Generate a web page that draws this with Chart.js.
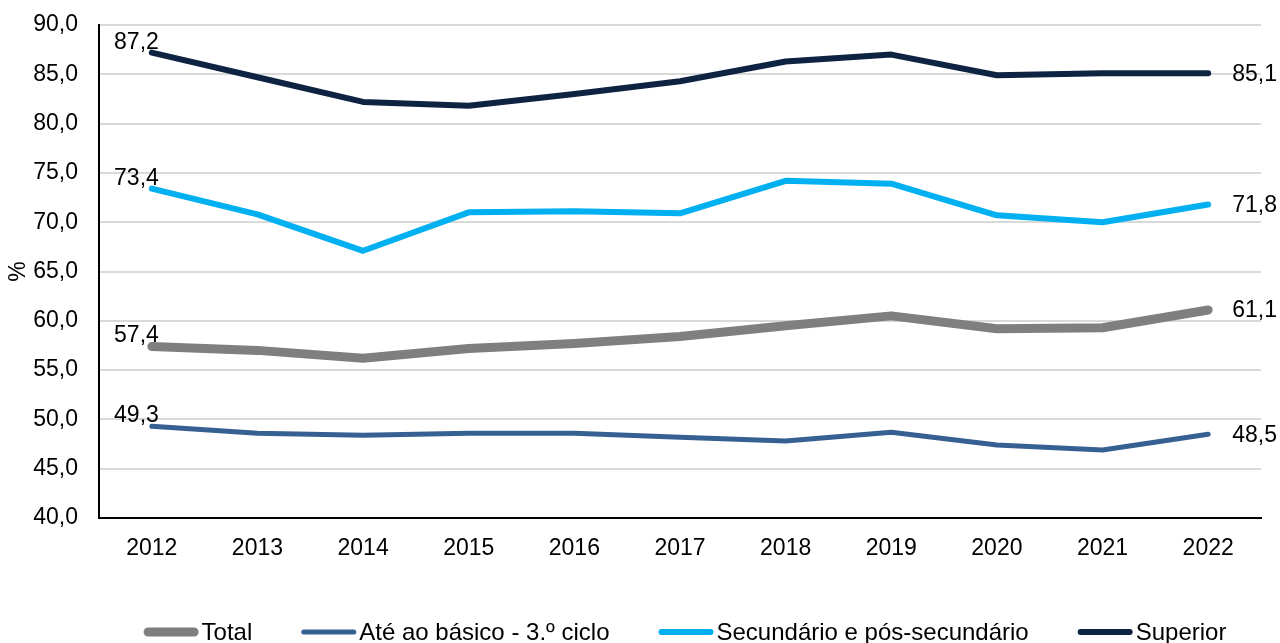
<!DOCTYPE html>
<html>
<head>
<meta charset="utf-8">
<script src="https://cdn.jsdelivr.net/npm/chart.js@4/dist/chart.umd.min.js"></script>
<style>
  html, body { margin: 0; padding: 0; background: #ffffff; }
  #wrap { width: 1280px; height: 643px; }
</style>
</head>
<body>
<div id="wrap"><canvas id="c" width="1280" height="643"></canvas></div>
<script>
const years = ['2012','2013','2014','2015','2016','2017','2018','2019','2020','2021','2022'];
const total = [57.4, 57.0, 56.2, 57.2, 57.7, 58.4, 59.5, 60.5, 59.2, 59.3, 61.1];
const basico = [49.3, 48.6, 48.4, 48.6, 48.6, 48.2, 47.8, 48.7, 47.4, 46.9, 48.5];
const secundario = [73.4, 70.8, 67.1, 71.0, 71.1, 70.9, 74.2, 73.9, 70.7, 70.0, 71.8];
const superior = [87.2, 84.7, 82.2, 81.8, 83.0, 84.3, 86.3, 87.0, 84.9, 85.1, 85.1];
const seriesNames = ['Total', 'Até ao básico - 3.º ciclo', 'Secundário e pós-secundário', 'Superior'];
const yMin = 40, yMax = 90, yStep = 5;

const FONT = 'Liberation Sans, Arial, sans-serif';
const FS = 23;
const LEGEND_FS = 24;
const fmt = v => v.toFixed(1).replace('.', ',');

function ds(label, data, color, width) {
  return {
    label, data,
    borderColor: color, backgroundColor: color,
    borderWidth: width, pointRadius: 0, tension: 0,
    borderCapStyle: 'round', borderJoinStyle: 'round', fill: false
  };
}

const labelPlugin = {
  id: 'labelsAndLegend',
  afterDatasetsDraw(chart) {
    const ctx = chart.ctx;
    const xs = chart.scales.x, ys = chart.scales.y;
    ctx.save();
    ctx.font = FS + 'px ' + FONT;
    ctx.fillStyle = '#000000';
    chart.data.datasets.forEach(d => {
      const n = d.data.length;
      const x0 = xs.getPixelForValue(0), y0 = ys.getPixelForValue(d.data[0]);
      ctx.textAlign = 'right'; ctx.textBaseline = 'alphabetic';
      ctx.fillText(fmt(d.data[0]), x0 + 7, y0 - 4);
      const x1 = xs.getPixelForValue(n - 1), y1 = ys.getPixelForValue(d.data[n - 1]);
      ctx.textAlign = 'left'; ctx.textBaseline = 'middle';
      ctx.fillText(fmt(d.data[n - 1]), x1 + 24, y1 + 1);
    });
    ctx.font = LEGEND_FS + 'px ' + FONT;
    const lineLen = 55, gap = 3, spacing = 49;
    const items = chart.data.datasets.map(d => ({ d, w: ctx.measureText(d.label).width }));
    let totalW = items.reduce((s, it) => s + lineLen + gap + it.w, 0) + spacing * (items.length - 1);
    const cx = (chart.chartArea.left + chart.chartArea.right) / 2 + 5;
    let x = cx - totalW / 2;
    const ly = 632;
    items.forEach(it => {
      ctx.beginPath();
      ctx.lineCap = 'round';
      ctx.strokeStyle = it.d.borderColor;
      ctx.lineWidth = it.d.borderWidth;
      ctx.moveTo(x + it.d.borderWidth / 2, ly);
      ctx.lineTo(x + lineLen - it.d.borderWidth / 2, ly);
      ctx.stroke();
      ctx.fillStyle = '#000000';
      ctx.textAlign = 'left'; ctx.textBaseline = 'middle';
      ctx.fillText(it.d.label, x + lineLen + gap, ly + 1);
      x += lineLen + gap + it.w + spacing;
    });
    ctx.restore();
  }
};

new Chart(document.getElementById('c'), {
  type: 'line',
  data: {
    labels: years,
    datasets: [
      ds(seriesNames[0], total, '#7f7f7f', 9),
      ds(seriesNames[1], basico, '#376092', 5),
      ds(seriesNames[2], secundario, '#00b0f0', 6),
      ds(seriesNames[3], superior, '#0e2341', 6)
    ]
  },
  options: {
    responsive: false,
    animation: false,
    devicePixelRatio: 1,
    layout: { padding: { left: 0, right: 19, top: 25, bottom: 0 } },
    plugins: { legend: { display: false }, tooltip: { enabled: false } },
    scales: {
      x: {
        offset: true,
        grid: { display: false, drawTicks: false },
        border: { display: true, color: '#000000', width: 2 },
        ticks: { color: '#000000', font: { family: FONT, size: FS }, padding: 17, maxRotation: 0 },
        afterFit(s) { s.height = 125; s.paddingLeft = 0; s.paddingRight = 0; }
      },
      y: {
        min: yMin, max: yMax,
        grid: { color: '#d9d9d9', lineWidth: 2, drawTicks: false },
        border: { display: true, color: '#000000', width: 2 },
        ticks: { stepSize: yStep, color: '#000000', font: { family: FONT, size: FS }, padding: 21, callback: v => fmt(v) },
        title: { display: true, text: '%', color: '#000000', font: { family: FONT, size: FS }, padding: { top: 5, bottom: 0 } },
        afterFit(s) { s.width = 99; s.paddingTop = 0; s.paddingBottom = 0; }
      }
    }
  },
  plugins: [labelPlugin]
});
</script>
</body>
</html>
